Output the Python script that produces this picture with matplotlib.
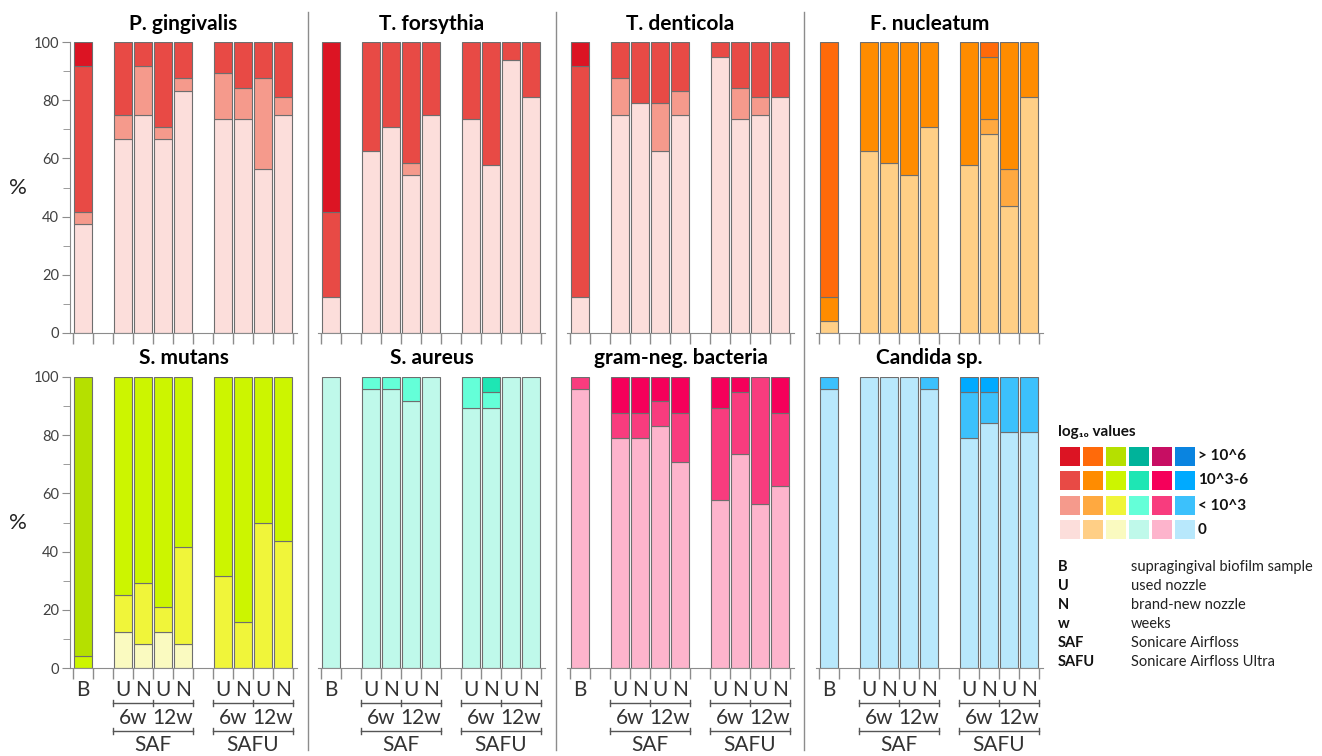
"""
Stacked bar panels of bacterial / fungal load categories per sample group,
with a colour key and abbreviation list on the right.
"""

import matplotlib
matplotlib.use("Agg")
import matplotlib.pyplot as plt
from matplotlib.patches import Rectangle
from matplotlib.lines import Line2D
from matplotlib.transforms import blended_transform_factory

plt.rcParams["font.family"] = ["Lato", "DejaVu Sans"]

W, H = 1322, 756

# bar order: B, SAF 6w U, SAF 6w N, SAF 12w U, SAF 12w N,
#            SAFU 6w U, SAFU 6w N, SAFU 12w U, SAFU 12w N
bar_pos = [0, 2, 3, 4, 5, 7, 8, 9, 10]
level_names = ["0", "< 10^3", "10^3-6", "> 10^6"]

# each species: segment heights (%) for level 0, <10^3, 10^3-6, >10^6
p_gingivalis = [
    [37.5, 66.7, 75.0, 66.7, 83.3, 73.7, 73.7, 56.2, 75.0],
    [4.2, 8.3, 16.7, 4.2, 4.2, 15.8, 10.5, 31.3, 6.2],
    [50.0, 25.0, 8.3, 29.1, 12.5, 10.5, 15.8, 12.5, 18.8],
    [8.3, 0, 0, 0, 0, 0, 0, 0, 0],
]
t_forsythia = [
    [12.5, 62.5, 70.8, 54.2, 75.0, 73.7, 57.9, 93.8, 81.2],
    [0, 0, 0, 4.1, 0, 0, 0, 0, 0],
    [29.2, 37.5, 29.2, 41.7, 25.0, 26.3, 42.1, 6.2, 18.8],
    [58.3, 0, 0, 0, 0, 0, 0, 0, 0],
]
t_denticola = [
    [12.5, 75.0, 79.2, 62.5, 75.0, 94.7, 73.7, 75.0, 81.2],
    [0, 12.5, 0, 16.7, 8.3, 0, 10.5, 6.2, 0],
    [79.2, 12.5, 20.8, 20.8, 16.7, 5.3, 15.8, 18.8, 18.8],
    [8.3, 0, 0, 0, 0, 0, 0, 0, 0],
]
f_nucleatum = [
    [4.2, 62.5, 58.3, 54.2, 70.8, 57.9, 68.4, 43.8, 81.2],
    [0, 0, 0, 0, 0, 0, 5.3, 12.5, 0],
    [8.3, 37.5, 41.7, 45.8, 29.2, 42.1, 21.0, 43.7, 18.8],
    [87.5, 0, 0, 0, 0, 0, 5.3, 0, 0],
]
s_mutans = [
    [0, 12.5, 8.3, 12.5, 8.3, 0, 0, 0, 0],
    [0, 12.5, 20.9, 8.3, 33.4, 31.6, 15.8, 50.0, 43.8],
    [4.2, 75.0, 70.8, 79.2, 58.3, 68.4, 84.2, 50.0, 56.2],
    [95.8, 0, 0, 0, 0, 0, 0, 0, 0],
]
s_aureus = [
    [100, 95.8, 95.8, 91.7, 100, 89.5, 89.5, 100, 100],
    [0, 4.2, 4.2, 8.3, 0, 10.5, 5.2, 0, 0],
    [0, 0, 0, 0, 0, 0, 5.3, 0, 0],
    [0, 0, 0, 0, 0, 0, 0, 0, 0],
]
gram_neg = [
    [95.8, 79.2, 79.2, 83.3, 70.8, 57.9, 73.7, 56.2, 62.5],
    [4.2, 8.3, 8.3, 8.4, 16.7, 31.6, 21.0, 43.8, 25.0],
    [0, 12.5, 12.5, 8.3, 12.5, 10.5, 5.3, 0, 12.5],
    [0, 0, 0, 0, 0, 0, 0, 0, 0],
]
candida = [
    [95.8, 100, 100, 100, 95.8, 78.9, 84.2, 81.2, 81.2],
    [4.2, 0, 0, 0, 4.2, 15.8, 10.5, 18.8, 18.8],
    [0, 0, 0, 0, 0, 5.3, 5.3, 0, 0],
    [0, 0, 0, 0, 0, 0, 0, 0, 0],
]

# palettes, light (0) -> dark (>10^6)
reds = ["#fcdedb", "#f59a8c", "#e84a45", "#dc1423"]
oranges = ["#ffcf86", "#ffa940", "#ff8c00", "#ff6a0a"]
limes = ["#fafac0", "#f0f53a", "#ccf500", "#b5e000"]
teals = ["#bff9ea", "#64ffd8", "#1ee6b4", "#00b39a"]
pinks = ["#fdb4cc", "#f83c7e", "#f5005a", "#c70e63"]
blues = ["#b8e8fc", "#3cc1fc", "#00aaff", "#0a84e0"]

panels = [
    ("P. gingivalis", p_gingivalis, reds),
    ("T. forsythia", t_forsythia, reds),
    ("T. denticola", t_denticola, reds),
    ("F. nucleatum", f_nucleatum, oranges),
    ("S. mutans", s_mutans, limes),
    ("S. aureus", s_aureus, teals),
    ("gram-neg. bacteria", gram_neg, pinks),
    ("Candida sp.", candida, blues),
]

legend_cols = [reds, oranges, limes, teals, pinks, blues]

abbrevs = ["B", "U", "N", "w", "SAF", "SAFU"]
abbrev_text = ["supragingival biofilm sample", "used nozzle", "brand-new nozzle",
               "weeks", "Sonicare Airfloss", "Sonicare Airfloss Ultra"]

GREY = "#8c8c8c"
TXT = "#404040"


def fx(px):
    return px / W


def fy(py):
    return 1 - py / H


fig = plt.figure(figsize=(W / 100, H / 100), dpi=100)

col_left = [70, 318, 567, 816]
row_bottom = [333, 668]
ax_w, ax_h = 227, 291

axes = []
for i, (name, levels, pal) in enumerate(panels):
    r, c = divmod(i, 4)
    ax = fig.add_axes([fx(col_left[c]), fy(row_bottom[r]), fx(ax_w), ax_h / H])
    bottoms = [0.0] * len(bar_pos)
    for k, seg in enumerate(levels):
        for j, h in enumerate(seg):
            if h > 0:
                ax.bar(bar_pos[j], h, bottom=bottoms[j], width=0.9,
                       color=pal[k], edgecolor="#6e6e6e", linewidth=0.8)
            bottoms[j] += h
    ax.set_xlim(-0.65, 10.7)
    ax.set_ylim(0, 100)
    ax.set_title(name, fontsize=15, fontweight="bold", pad=9)
    for s in ["top", "right"]:
        ax.spines[s].set_visible(False)
    ax.spines["bottom"].set_color(GREY)
    ax.set_xticks([x - 0.5 for x in range(12)])
    ax.set_xticklabels([])
    ax.tick_params(axis="x", direction="out", length=8, color=GREY, width=1)
    if c == 0:
        ax.spines["left"].set_color(GREY)
        ax.set_yticks(range(0, 101, 20))
        ax.set_yticks(range(10, 100, 20), minor=True)
        ax.tick_params(axis="y", which="major", direction="out", length=6,
                       color=GREY, labelsize=10.5, labelcolor=TXT, pad=2)
        ax.tick_params(axis="y", which="minor", direction="out", length=5,
                       color=GREY)
        fig.text(fx(18), fy(row_bottom[r] - 145), "%", fontsize=16,
                 ha="center", va="center", color="#222222")
    else:
        ax.spines["left"].set_visible(False)
        ax.set_yticks([])
    axes.append(ax)

    # group labels under the bottom row
    if r == 1:
        tr = blended_transform_factory(ax.transData, fig.transFigure)
        lab_kw = dict(transform=tr, ha="center", va="center", fontsize=15,
                      color="#333333")
        ax.text(0, fy(690), "B", **lab_kw)
        for start, grp in [(2, "SAF"), (7, "SAFU")]:
            for k, letter in enumerate(["U", "N", "U", "N"]):
                ax.text(start + k, fy(690), letter, **lab_kw)
            x0, x1, xm = start - 0.5, start + 3.5, start + 1.5
            for yy, ticks in [(703, [x0, xm, x1]), (731, [x0, x1])]:
                ax.add_line(Line2D([x0, x1], [fy(yy), fy(yy)], transform=tr,
                                   color="#555555", lw=1, clip_on=False))
                for t in ticks:
                    ax.add_line(Line2D([t, t], [fy(yy - 3), fy(yy + 3)],
                                       transform=tr, color="#555555", lw=1,
                                       clip_on=False))
            ax.text(start + 0.5, fy(718), "6w", **lab_kw)
            ax.text(start + 2.5, fy(718), "12w", **lab_kw)
            ax.text(start + 1.5, fy(745), grp, **lab_kw)

# panel separators
for sx in [308, 556, 804]:
    fig.add_artist(Line2D([fx(sx), fx(sx)], [fy(12), fy(750)],
                          color=GREY, lw=1))

# colour key
fig.text(fx(1058), fy(432), "log₁₀ values", fontsize=11, fontweight="bold",
         ha="left", va="center", color="#111111")
sw_x = [1060, 1083, 1106, 1129, 1152, 1175]
sw_y = [447, 471, 496, 520]
for ci, pal in enumerate(legend_cols):
    for ri in range(4):
        lvl = 3 - ri
        fig.add_artist(Rectangle((fx(sw_x[ci]), fy(sw_y[ri] + 19)),
                                 fx(19.5), 19 / H, transform=fig.transFigure,
                                 facecolor=pal[lvl], edgecolor="none"))
for ri in range(4):
    fig.text(fx(1198), fy(sw_y[ri] + 9.5), level_names[3 - ri], fontsize=11,
             fontweight="bold", ha="left", va="center", color="#111111")

for k, (ab, txt) in enumerate(zip(abbrevs, abbrev_text)):
    yy = 567 + k * 19
    fig.text(fx(1058), fy(yy), ab, fontsize=10.5, fontweight="bold",
             ha="left", va="center", color="#111111")
    fig.text(fx(1131), fy(yy), txt, fontsize=10.5, ha="left", va="center",
             color="#222222")

fig.savefig("out.png", dpi=100, facecolor="white")
